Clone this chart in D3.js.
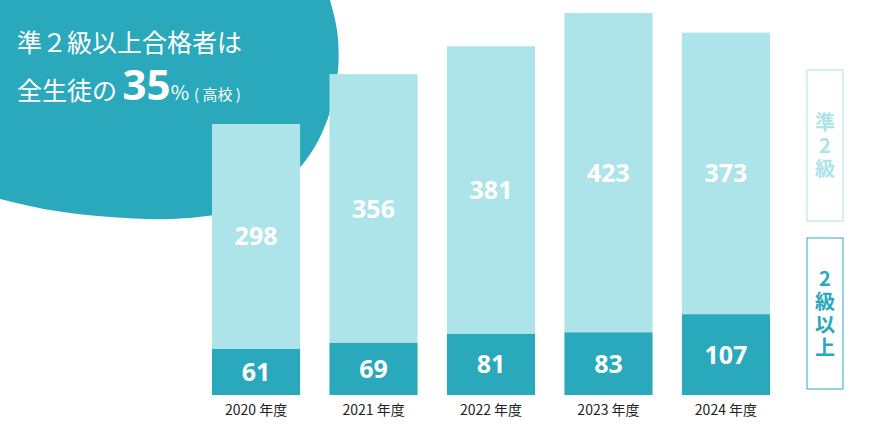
<!DOCTYPE html>
<html><head><meta charset="utf-8">
<script src="https://cdn.jsdelivr.net/npm/d3@7"></script>
<style>body{margin:0;background:#fff}svg{display:block;font-family:"Noto Sans CJK JP","Noto Sans",sans-serif}</style>
</head><body><div id="visual"></div>
<script>
var years = ["2020 年度", "2021 年度", "2022 年度", "2023 年度", "2024 年度"];
var level2 = [61, 69, 81, 83, 107];
var pre2 = [298, 356, 381, 423, 373];

var width = 880, height = 440, base = 395;
var dark = "#29a9bb", light = "#ace4e9";

var svg = d3.select("#visual").append("svg").attr("width", width).attr("height", height);

// blob behind the title
var edge = [[0,199],[50,210],[110,217],[170,219],[222,213],[270,193],[306,160],[328,118],[338,70],[337,30],[330,0]];
var bd = d3.line().curve(d3.curveCatmullRom)(edge) + "L0,0Z";
svg.append("path").attr("d", bd).attr("fill", dark);

var xScale = d3.scaleBand().domain(years).range([212, 770]).paddingInner(0.25).paddingOuter(0);
var yScale = d3.scaleLinear().domain([0, 506]).range([0, base - 13]);
var bw = xScale.bandwidth();

var g = svg.selectAll("g.bar").data(years).enter().append("g");
g.append("rect").attr("x", d => xScale(d)).attr("width", bw)
  .attr("y", (d, i) => base - yScale(level2[i] + pre2[i])).attr("height", (d, i) => yScale(pre2[i]))
  .attr("fill", light);
g.append("rect").attr("x", d => xScale(d)).attr("width", bw)
  .attr("y", (d, i) => base - yScale(level2[i])).attr("height", (d, i) => yScale(level2[i]))
  .attr("fill", dark);
g.append("text").attr("x", d => xScale(d) + bw / 2)
  .attr("y", (d, i) => base - yScale(level2[i]) - yScale(pre2[i]) / 2 + 9)
  .text((d, i) => pre2[i]);
g.append("text").attr("x", d => xScale(d) + bw / 2)
  .attr("y", (d, i) => base - yScale(level2[i]) / 2 + 9)
  .text((d, i) => level2[i]);
g.selectAll("text").attr("text-anchor", "middle").attr("fill", "#fff")
  .attr("font-size", 25).attr("font-weight", "bold").attr("font-family", "'Open Sans',sans-serif");

var xAxis = svg.append("g").attr("transform", "translate(0," + base + ")")
  .call(d3.axisBottom(xScale).tickSize(0).tickPadding(10));
xAxis.select(".domain").remove();
xAxis.selectAll("text").attr("font-size", 14).attr("fill", "#222")
  .attr("font-family", "'Noto Sans CJK JP',sans-serif");

// title
svg.append("text").attr("x", 17).attr("y", 52).attr("fill", "#fff").attr("font-size", 25)
  .text("準２級以上合格者は");
var t = svg.append("text").attr("x", 17).attr("y", 100).attr("fill", "#fff").attr("font-size", 25);
t.append("tspan").text("全生徒の ");
t.append("tspan").attr("font-size", 42).attr("font-weight", "bold").attr("font-family", "'Open Sans',sans-serif").text("35");
t.append("tspan").attr("font-size", 20).text("%");
t.append("tspan").attr("font-size", 15).attr("dx", 5).text("( 高校 )");

// legend
var leg = [{lab: ["準", "2", "級"], c: light, y: 70}, {lab: ["2", "級", "以", "上"], c: dark, y: 238}];
leg.forEach(function(l) {
  svg.append("rect").attr("x", 807).attr("y", l.y).attr("width", 36).attr("height", 151)
    .attr("fill", "none").attr("stroke", l.c).attr("stroke-width", 1);
  var n = l.lab.length, y0 = l.y + 75.5 - (n - 1) * 11.5;
  l.lab.forEach(function(s, i) {
    svg.append("text").attr("x", 825).attr("y", y0 + i * 23 + 7).attr("text-anchor", "middle")
      .attr("fill", l.c).attr("font-size", 20).attr("font-weight", "bold").text(s);
  });
});
</script></body></html>
